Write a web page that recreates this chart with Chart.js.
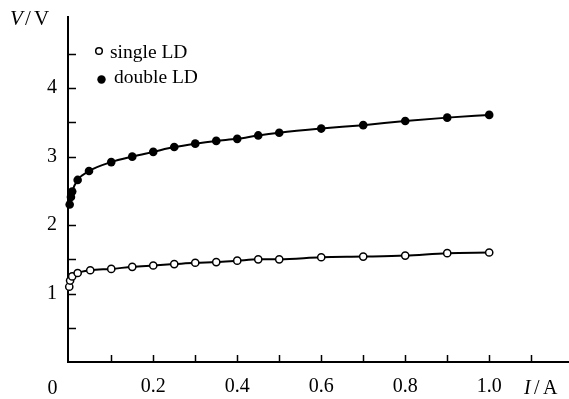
<!doctype html>
<html>

<head>
	<title>V-I curves</title>
	<script src="https://cdn.jsdelivr.net/npm/chart.js@4/dist/chart.umd.min.js"></script>
	<style type="text/css">
		html, body {
			margin: 0;
			padding: 0;
			background: #fff;
		}
		canvas {
			display: block;
		}
	</style>
</head>

<body>
	<canvas id="canvas" width="569" height="399"></canvas>
	<script>
		// values
		var singleI = [0.0, 0.002, 0.007, 0.02, 0.05, 0.1, 0.15, 0.2, 0.25, 0.3, 0.35, 0.4, 0.45, 0.5, 0.6, 0.7, 0.8, 0.9, 1.0];
		var singleV = [1.10, 1.19, 1.25, 1.30, 1.34, 1.36, 1.39, 1.41, 1.43, 1.45, 1.46, 1.48, 1.50, 1.50, 1.53, 1.54, 1.555, 1.59, 1.60];
		var doubleI = [0.001, 0.004, 0.007, 0.02, 0.047, 0.1, 0.15, 0.2, 0.25, 0.3, 0.35, 0.4, 0.45, 0.5, 0.6, 0.7, 0.8, 0.9, 1.0];
		var doubleV = [2.30, 2.41, 2.49, 2.66, 2.79, 2.92, 3.00, 3.07, 3.14, 3.19, 3.23, 3.26, 3.31, 3.35, 3.41, 3.46, 3.52, 3.57, 3.61];

		var xTicks = [0.1, 0.2, 0.3, 0.4, 0.5, 0.6, 0.7, 0.8, 0.9, 1.0, 1.1];
		var xLabels = ['', '0.2', '', '0.4', '', '0.6', '', '0.8', '', '1.0', ''];
		var yTicks = [0.5, 1, 1.5, 2, 2.5, 3, 3.5, 4, 4.5];
		var yLabels = ['', '1', '', '2', '', '3', '', '4', ''];

		var serif = "'Liberation Serif', 'DejaVu Serif', serif";

		function toPoints(xs, ys) {
			return xs.map(function(x, i) { return {x: x, y: ys[i]}; });
		}

		function noPadding(scale) {
			scale.paddingTop = 0;
			scale.paddingBottom = 0;
			scale.paddingLeft = 0;
			scale.paddingRight = 0;
		}

		// inward tick marks, corner zero, axis names and the legend
		var decorations = {
			id: 'decorations',
			afterDraw: function(chart) {
				var ctx = chart.ctx;
				var xs = chart.scales.x;
				var ys = chart.scales.y;
				var area = chart.chartArea;
				ctx.save();
				ctx.strokeStyle = '#000';
				ctx.lineWidth = 1.5;
				ctx.beginPath();
				xTicks.forEach(function(v) {
					var px = Math.round(xs.getPixelForValue(v)) + 0.5;
					ctx.moveTo(px, area.bottom);
					ctx.lineTo(px, area.bottom - 7);
				});
				yTicks.forEach(function(v) {
					var py = Math.round(ys.getPixelForValue(v)) + 0.5;
					ctx.moveTo(area.left, py);
					ctx.lineTo(area.left + 8, py);
				});
				ctx.stroke();

				ctx.fillStyle = '#000';
				ctx.textBaseline = 'alphabetic';
				ctx.textAlign = 'left';

				// corner zero
				ctx.font = '20px ' + serif;
				ctx.fillText('0', 47.5, 394);

				// axis names
				ctx.font = 'italic 21px ' + serif;
				ctx.fillText('V', 10, 25);
				ctx.font = '21px ' + serif;
				ctx.fillText('/', 25, 25);
				ctx.fillText('V', 34, 25);

				ctx.font = 'italic 20px ' + serif;
				ctx.fillText('I', 524, 394);
				ctx.font = '20px ' + serif;
				ctx.fillText('/', 534, 394);
				ctx.fillText('A', 543, 394);

				// legend
				var sets = chart.data.datasets;
				ctx.font = '19.5px ' + serif;
				ctx.lineWidth = 1.5;
				ctx.beginPath();
				ctx.arc(99, 51, 3.3, 0, Math.PI * 2);
				ctx.fillStyle = '#fff';
				ctx.fill();
				ctx.stroke();
				ctx.fillStyle = '#000';
				ctx.fillText(sets[0].label, 110, 57.5);
				ctx.beginPath();
				ctx.arc(101.5, 79.5, 4.2, 0, Math.PI * 2);
				ctx.fill();
				ctx.fillText(sets[1].label, 114, 82.5);
				ctx.restore();
			}
		};

		window.onload = function() {
			var ctx = document.getElementById('canvas').getContext('2d');
			window.myChart = new Chart(ctx, {
				type: 'scatter',
				data: {
					datasets: [{
						label: 'single LD',
						data: toPoints(singleI, singleV),
						showLine: true,
						clip: false,
						cubicInterpolationMode: 'monotone',
						borderColor: '#000',
						borderWidth: 2,
						pointRadius: 3.6,
						pointBorderWidth: 1.5,
						pointBackgroundColor: '#fff',
						pointBorderColor: '#000'
					}, {
						label: 'double LD',
						data: toPoints(doubleI, doubleV),
						showLine: true,
						clip: false,
						cubicInterpolationMode: 'monotone',
						borderColor: '#000',
						borderWidth: 2,
						pointRadius: 4.3,
						pointBorderWidth: 0,
						pointBackgroundColor: '#000',
						pointBorderColor: '#000'
					}]
				},
				options: {
					responsive: false,
					maintainAspectRatio: false,
					animation: false,
					devicePixelRatio: 1,
					layout: {
						autoPadding: false,
						padding: {top: 17, right: 0, bottom: 0, left: 0}
					},
					plugins: {
						legend: {display: false},
						tooltip: {enabled: false}
					},
					scales: {
						x: {
							type: 'linear',
							min: -0.003,
							max: 1.19,
							afterBuildTicks: function(scale) {
								scale.ticks = xTicks.map(function(v) { return {value: v}; });
							},
							afterFit: function(scale) {
								scale.height = 37;
								noPadding(scale);
							},
							grid: {drawOnChartArea: false, drawTicks: false},
							border: {display: true, color: '#000', width: 2},
							ticks: {
								autoSkip: false,
								maxRotation: 0,
								padding: 13,
								color: '#000',
								font: {family: serif, size: 20},
								callback: function(value, index) {
									return xLabels[index];
								}
							}
						},
						y: {
							type: 'linear',
							min: 0,
							max: 5.04,
							afterBuildTicks: function(scale) {
								scale.ticks = yTicks.map(function(v) { return {value: v}; });
							},
							afterFit: function(scale) {
								scale.width = 68;
								noPadding(scale);
							},
							grid: {drawOnChartArea: false, drawTicks: false},
							border: {display: true, color: '#000', width: 2},
							ticks: {
								autoSkip: false,
								padding: 11,
								color: '#000',
								font: {family: serif, size: 20},
								callback: function(value, index) {
									return yLabels[index];
								}
							}
						}
					}
				},
				plugins: [decorations]
			});
		};
	</script>
</body>

</html>
